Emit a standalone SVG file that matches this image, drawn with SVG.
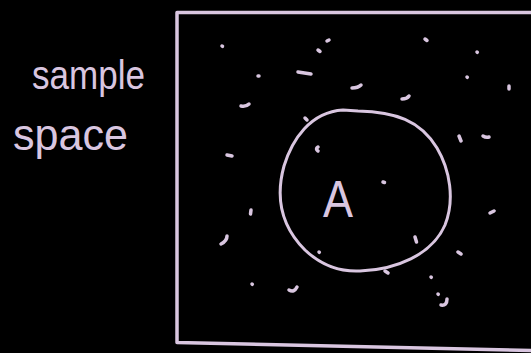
<svg xmlns="http://www.w3.org/2000/svg" width="531" height="353" viewBox="0 0 531 353">
<style>
.ink{fill:none;stroke:#d9c6e0;stroke-linecap:round;stroke-linejoin:round}
.frame{stroke-width:3.5}
.ring{stroke-width:3}
.dot{stroke-width:3.5}
.t{fill:#d9c6e0;font-family:"Liberation Sans",Arial,sans-serif}
</style>
<rect width="531" height="353" fill="#000"/>
<g id="sample-space-label">
<text class="t" x="32" y="89" font-size="40" textLength="113" lengthAdjust="spacingAndGlyphs">sample</text>
<text class="t" x="13" y="150" font-size="44" textLength="115" lengthAdjust="spacingAndGlyphs">space</text>
</g>
<g id="sample-space">
<path class="ink frame" d="M531,12.5 L177,12.5 L177,342.5 L531,350.5"/>
</g>
<g id="event-A">
<path class="ink ring" d="M343,110 C310,112 292,140 284,166 C276,195 280,225 305,250 C322,266 340,272 360,271 C395,270 432,255 445,225 C455,200 450,170 437,148 C420,120 395,112 358,111 Z"/>
<text class="t" x="323" y="217" font-size="51" textLength="30" lengthAdjust="spacingAndGlyphs">A</text>
</g>
<g id="outcomes" class="ink dot">
<path d="M222,46 l0.5,0.3"/>
<path d="M327,41 l2,-1"/>
<path d="M318,50 l2,1.5"/>
<path d="M425,39 l2,1.5"/>
<path d="M477,52 l0.3,0.3"/>
<path d="M258,76 l1,0"/>
<path d="M298,72 l13,2"/>
<path d="M467,77 l0.3,0.3"/>
<path d="M509,86 l0,3"/>
<path d="M352,88 q6,0 9,-3"/>
<path d="M402,99 q5,0 7,-3"/>
<path d="M241,106 q5,1 8,-2"/>
<path d="M305,118 l2,2"/>
<path d="M459,136 l2,5"/>
<path d="M483,136 q3,2 6,1"/>
<path d="M227,155 l5,1"/>
<path d="M318,147 q-3,2 0,4"/>
<path d="M383,182 l1.5,0.5"/>
<path d="M251,210 l-0.5,4"/>
<path d="M227,236 q0,5 -6,8"/>
<path d="M319,252 l0.3,0.3"/>
<path d="M415,237 l1.5,5"/>
<path d="M458,252 l3,2"/>
<path d="M490,213 l4,-2"/>
<path d="M385,271 l3,2"/>
<path d="M252,284 l0.3,0.3"/>
<path d="M289,290 q5,3 8,-3"/>
<path d="M431,277 l0.3,0.3"/>
<path d="M438,294 l0.3,0.3"/>
<path d="M441,305 q6,1 6,-6"/>
</g>
</svg>
